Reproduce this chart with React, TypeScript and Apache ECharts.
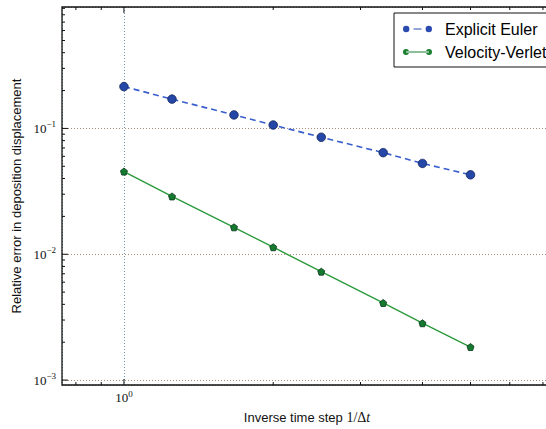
import React, { useEffect, useRef } from "react";
import * as echarts from "echarts";

// Inverse time step 1/Δt
const inverseStep = [1, 1.25, 1.667, 2, 2.5, 3.333, 4, 5];
// Relative error in deposition displacement
const eulerError = [0.215, 0.171, 0.128, 0.1065, 0.0851, 0.0642, 0.0527, 0.0428];
const verletError = [0.0454, 0.0288, 0.01637, 0.01137, 0.00727, 0.0041, 0.00283, 0.00183];
const seriesNames = ["Explicit Euler", "Velocity-Verlet"];

const X_MIN = 0.75;
const X_MAX = 7.3;
const Y_MIN = 0.000914;
const Y_MAX = 0.9226;

const xMajorTicks = [1];
const xMinorTicks = [0.8, 0.9, 2, 3, 4, 5, 6, 7];
const yMajorTicks = [0.001, 0.01, 0.1];
const yMinorTicks = [
  0.002, 0.003, 0.004, 0.005, 0.006, 0.007, 0.008, 0.009,
  0.02, 0.03, 0.04, 0.05, 0.06, 0.07, 0.08, 0.09,
  0.2, 0.3, 0.4, 0.5, 0.6, 0.7, 0.8, 0.9,
];

const PENTAGON = "path://M0,-1 L0.951,-0.309 L0.588,0.809 L-0.588,0.809 L-0.951,-0.309 Z";
// legend icons: two markers joined by a line (dashed for Euler)
const ICON_EULER =
  "path://M0,4 A3.2,3.2 0 1 0 6.4,4 A3.2,3.2 0 1 0 0,4 Z M10.5,3.4 L18.5,3.4 L18.5,4.6 L10.5,4.6 Z M22.6,4 A3.2,3.2 0 1 0 29,4 A3.2,3.2 0 1 0 22.6,4 Z M0,0.01 L0.01,0 Z M29,8 L28.99,8 Z";
const ICON_VERLET =
  "path://M0,4 A3,3 0 1 0 6,4 A3,3 0 1 0 0,4 Z M3,3.4 L26,3.4 L26,4.6 L3,4.6 Z M23,4 A3,3 0 1 0 29,4 A3,3 0 1 0 23,4 Z M0,0.01 L0.01,0 Z M29,8 L28.99,8 Z";

const SERIF = "Liberation Serif";
const SANS = "Liberation Sans";

const powFmt = (v: number) => {
  const e = Math.log10(v);
  const r = Math.round(e);
  if (Math.abs(e - r) > 1e-6) return "";
  return `{b|10}{s|${r < 0 ? "\u2212" : ""}${Math.abs(r)}}`;
};
const powRich = {
  b: { fontFamily: SERIF, fontSize: 13, color: "#111" },
  s: { fontFamily: SERIF, fontSize: 9, color: "#111", padding: [0, 0, 8, 0] },
};

export default function App() {
  const ref = useRef<HTMLDivElement>(null);
  useEffect(() => {
    if (!ref.current) return;
    const chart = echarts.init(ref.current, undefined, { renderer: "svg" });

    const tickData: number[][] = [];
    xMajorTicks.forEach((v) => tickData.push([v, Y_MIN, 0]));
    xMinorTicks.forEach((v) => tickData.push([v, Y_MIN, 1]));
    yMajorTicks.forEach((v) => tickData.push([X_MIN, v, 2]));
    yMinorTicks.forEach((v) => tickData.push([X_MIN, v, 3]));

    const tickStyle = { stroke: "#111", lineWidth: 1 };

    chart.setOption({
      animation: false,
      backgroundColor: "#fff",
      grid: {
        left: 62,
        top: 7,
        right: 48,
        bottom: 36,
        show: true,
        borderColor: "#111",
        borderWidth: 1.3,
        backgroundColor: "transparent",
        z: 5,
      },
      legend: {
        orient: "vertical",
        left: 394,
        top: 13,
        padding: [8, 12, 7, 9],
        itemGap: 7,
        itemWidth: 29,
        itemHeight: 8,
        backgroundColor: "#fff",
        borderColor: "#111",
        borderWidth: 1,
        borderRadius: 0,
        itemStyle: { borderWidth: 0 },
        textStyle: { fontFamily: SANS, fontSize: 16, color: "#000", padding: [0, 0, 0, 8] },
        data: [
          { name: seriesNames[0], icon: ICON_EULER, itemStyle: { color: "#2a4cb0", borderWidth: 0 } },
          { name: seriesNames[1], icon: ICON_VERLET, itemStyle: { color: "#1b7f32", borderWidth: 0 } },
        ],
      },
      xAxis: {
        type: "log",
        logBase: 10,
        min: X_MIN,
        max: X_MAX,
        name: "{a|Inverse time step }{b|1/Δ}{c|t}",
        nameLocation: "middle",
        nameGap: 25,
        nameTextStyle: {
          fontFamily: SANS,
          fontSize: 13,
          color: "#111",
          rich: {
            a: { fontFamily: SANS, fontSize: 13, color: "#111" },
            b: { fontFamily: SERIF, fontSize: 14, color: "#111" },
            c: { fontFamily: SERIF, fontSize: 14, fontStyle: "italic", color: "#111" },
          },
        },
        axisLine: { show: false },
        axisTick: { show: false },
        minorTick: { show: false },
        axisLabel: { formatter: powFmt, rich: powRich, margin: 4, showMinLabel: false, showMaxLabel: false },
        splitLine: {
          show: true,
          lineStyle: { color: "#6a9db5", type: [1, 2], width: 1 },
        },
      },
      yAxis: {
        type: "log",
        logBase: 10,
        min: Y_MIN,
        max: Y_MAX,
        name: "Relative error in deposition displacement",
        nameLocation: "middle",
        nameGap: 39,
        nameRotate: 90,
        nameTextStyle: { fontFamily: SANS, fontSize: 13, color: "#111" },
        axisLine: { show: false },
        axisTick: { show: false },
        minorTick: { show: false },
        axisLabel: { formatter: powFmt, rich: powRich, margin: 6, showMinLabel: false, showMaxLabel: false },
        splitLine: {
          show: true,
          lineStyle: { color: "#a58d7a", type: [1, 2], width: 1 },
        },
      },
      series: [
        {
          name: seriesNames[0],
          type: "line",
          data: inverseStep.map((x, i) => [x, eulerError[i]]),
          symbol: "circle",
          symbolSize: 8.5,
          lineStyle: { color: "#3a5fcd", width: 1.6, type: [6, 4] },
          itemStyle: { color: "#2447a8", borderColor: "#0f1f55", borderWidth: 0.8 },
          z: 3,
        },
        {
          name: seriesNames[1],
          type: "line",
          data: inverseStep.map((x, i) => [x, verletError[i]]),
          symbol: PENTAGON,
          symbolSize: 7,
          lineStyle: { color: "#2b9a3c", width: 1.4 },
          itemStyle: { color: "#137a30", borderColor: "#0a3318", borderWidth: 0.8 },
          z: 3,
        },
        {
          type: "custom",
          silent: true,
          clip: false,
          z: 6,
          encode: { x: 0, y: 1 },
          data: tickData,
          renderItem: (params: any, api: any) => {
            const kind = api.value(2);
            const len = kind % 2 === 0 ? 6 : 3;
            if (kind < 2) {
              const v = api.value(0);
              const b = api.coord([v, Y_MIN]);
              const t = api.coord([v, Y_MAX]);
              return {
                type: "group",
                children: [
                  { type: "line", shape: { x1: b[0], y1: b[1], x2: b[0], y2: b[1] - len }, style: tickStyle },
                  { type: "line", shape: { x1: t[0], y1: t[1], x2: t[0], y2: t[1] + len }, style: tickStyle },
                ],
              };
            }
            const v = api.value(1);
            const l = api.coord([X_MIN, v]);
            const r = api.coord([X_MAX, v]);
            return {
              type: "group",
              children: [
                { type: "line", shape: { x1: l[0], y1: l[1], x2: l[0] + len, y2: l[1] }, style: tickStyle },
                { type: "line", shape: { x1: r[0], y1: r[1], x2: r[0] - len, y2: r[1] }, style: tickStyle },
              ],
            };
          },
        },
      ],
    });
    return () => chart.dispose();
  }, []);

  return (
    <div
      style={{
        position: "fixed",
        left: 0,
        top: 0,
        width: 546,
        height: 429,
        overflow: "hidden",
        background: "#fff",
      }}
    >
      <div ref={ref} style={{ width: 600, height: 429 }} />
    </div>
  );
}
